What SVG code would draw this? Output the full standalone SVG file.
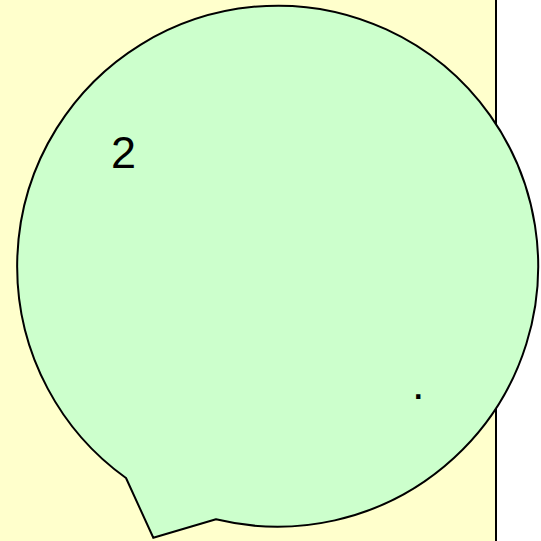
<svg xmlns="http://www.w3.org/2000/svg" width="541" height="541" viewBox="0 0 541 541">
<style>
.bg{fill:#FFFFCC;stroke:#000;stroke-width:2}
.bubble{fill:#CCFFCC;stroke:#000;stroke-width:2;stroke-linejoin:miter}
.t{font-family:"Liberation Sans",Arial,sans-serif;font-size:45px;fill:#000}
</style>
<rect width="541" height="541" fill="#fff"/>
<g id="frame"><rect class="bg" x="-10" y="-10" width="506" height="561"/></g>
<g id="bubble">
<path class="bubble" d="M 216 519.3 L 153.3 537.7 L 126 478 A 260.5 260.5 0 1 1 216 519.3 Z"/>
<text class="t" x="111" y="168">2</text>
<text class="t" x="412" y="399">.</text>
</g>
<g id="connectors"></g>
</svg>
